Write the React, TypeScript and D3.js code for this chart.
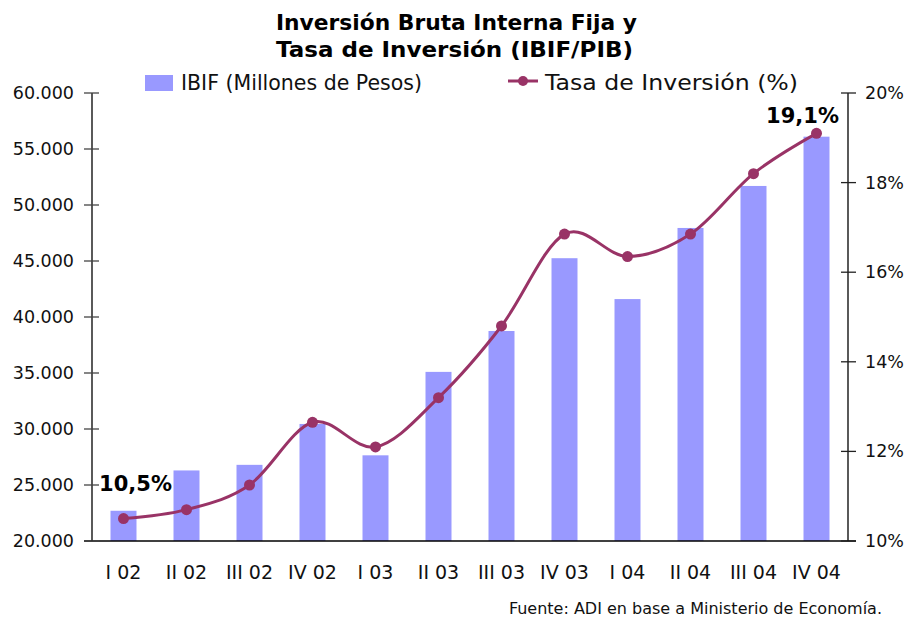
import * as d3 from 'd3';

const categories = ['I 02', 'II 02', 'III 02', 'IV 02', 'I 03', 'II 03', 'III 03', 'IV 03', 'I 04', 'II 04', 'III 04', 'IV 04'];
const ibif = [22700, 26300, 26800, 30450, 27650, 35100, 38750, 45250, 41600, 47950, 51700, 56100];
const tasa = [10.5, 10.7, 11.25, 12.65, 12.1, 13.2, 14.8, 16.85, 16.35, 16.85, 18.2, 19.1];
const leftTicks = [20000, 25000, 30000, 35000, 40000, 45000, 50000, 55000, 60000];
const rightTicks = [10, 12, 14, 16, 18, 20];

const W = 910;
const H = 621;
const margin = { top: 93, right: 62, bottom: 80, left: 92 };
const font = '"DejaVu Sans", Verdana, sans-serif';
const barColor = '#9999FF';
const lineColor = '#993366';

const fmtMiles = (v: number) => d3.format(',.0f')(v).replace(/,/g, '.');

export default function App() {
  const x = d3.scaleBand().domain(categories).range([margin.left, W - margin.right]);
  const yL = d3.scaleLinear().domain([20000, 60000]).range([H - margin.bottom, margin.top]);
  const yR = d3.scaleLinear().domain([10, 20]).range([H - margin.bottom, margin.top]);
  const cx = (c: string) => (x(c) ?? 0) + x.bandwidth() / 2;
  const barW = 26;
  const y0 = H - margin.bottom;
  const xL = margin.left;
  const xR = W - margin.right;

  const line = d3
    .line<number>()
    .x((_, i) => cx(categories[i]))
    .y(d => yR(d))
    .curve(d3.curveCardinal.tension(0));

  const first = 0;
  const last = tasa.length - 1;

  return (
    <svg width={W} height={H} style={{ position: 'absolute', left: 0, top: 0, background: '#fff' }} fontFamily={font}>
      {/* title */}
      <text x={276} y={30} fontSize={22} fontWeight="bold" fill="#000" textLength={361} lengthAdjust="spacingAndGlyphs">
        Inversión Bruta Interna Fija y
      </text>
      <text x={276} y={57} fontSize={22} fontWeight="bold" fill="#000" textLength={357} lengthAdjust="spacingAndGlyphs">
        Tasa de Inversión (IBIF/PIB)
      </text>

      {/* legend */}
      <rect x={145} y={75} width={28} height={16} fill={barColor} />
      <text x={181} y={90} fontSize={21} fill="#111" textLength={241} lengthAdjust="spacingAndGlyphs">IBIF (Millones de Pesos)</text>
      <line x1={508} x2={538} y1={81} y2={81} stroke={lineColor} strokeWidth={3} />
      <circle cx={523} cy={81} r={5} fill={lineColor} />
      <text x={545} y={90} fontSize={21} fill="#111" textLength={253} lengthAdjust="spacingAndGlyphs">Tasa de Inversión (%)</text>

      {/* bars */}
      {ibif.map((v, i) => (
        <rect
          key={categories[i]}
          x={cx(categories[i]) - barW / 2}
          y={yL(v)}
          width={barW}
          height={y0 - yL(v)}
          fill={barColor}
        />
      ))}

      {/* axes */}
      <line x1={xL} x2={xL} y1={margin.top} y2={y0} stroke="#000" strokeWidth={1.3} />
      <line x1={xR} x2={xR} y1={margin.top} y2={y0} stroke="#000" strokeWidth={1.3} />
      <line x1={xL - 8} x2={xR + 8} y1={y0} y2={y0} stroke="#000" strokeWidth={1.3} />
      {leftTicks.map(t => (
        <g key={t}>
          <line x1={xL - 8} x2={xL + 7} y1={yL(t)} y2={yL(t)} stroke="#444" strokeWidth={1.3} />
          <text x={74} y={yL(t) + 6} textAnchor="end" fontSize={17.5} fill="#111">{fmtMiles(t)}</text>
        </g>
      ))}
      {rightTicks.map(t => (
        <g key={t}>
          <line x1={xR - 7} x2={xR + 8} y1={yR(t)} y2={yR(t)} stroke="#222" strokeWidth={1.3} />
          <text x={865} y={yR(t) + 6} fontSize={17.5} fill="#111">{t}%</text>
        </g>
      ))}
      {categories.map(c => (
        <text key={c} x={cx(c)} y={579} textAnchor="middle" fontSize={19} fill="#111">{c}</text>
      ))}

      {/* line series */}
      <path d={line(tasa) ?? ''} fill="none" stroke={lineColor} strokeWidth={3} />
      {tasa.map((v, i) => (
        <circle key={i} cx={cx(categories[i])} cy={yR(v)} r={5.5} fill={lineColor} />
      ))}

      {/* data labels */}
      <text x={cx(categories[first]) + 12} y={yR(tasa[first]) - 28} textAnchor="middle" fontSize={21} fontWeight="bold" fill="#000">
        {String(tasa[first]).replace('.', ',')}%
      </text>
      <text x={cx(categories[last]) - 14} y={yR(tasa[last]) - 10} textAnchor="middle" fontSize={21} fontWeight="bold" fill="#000">
        {String(tasa[last]).replace('.', ',')}%
      </text>

      <text x={882} y={614} textAnchor="end" fontSize={16} fill="#111">
        Fuente: ADI en base a Ministerio de Economía.
      </text>
    </svg>
  );
}
